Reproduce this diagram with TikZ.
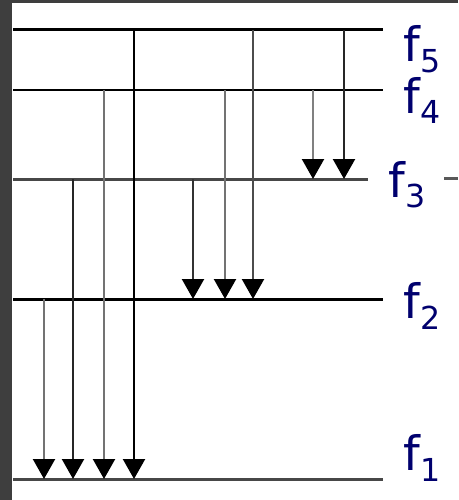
\documentclass[tikz,border=0pt]{standalone}
\usepackage{fontspec}
\setmainfont{DejaVu Sans}
\usetikzlibrary{arrows.meta}
\definecolor{levelnavy}{RGB}{0,0,110}
\definecolor{framegrey}{RGB}{62,62,62}
\newcommand{\levsub}[1]{\raisebox{-0.22cm}{\fontsize{18}{20}\selectfont #1}}

\begin{document}
\begin{tikzpicture}[x=0.02cm,y=-0.02cm]
		\tikzset{> = {Triangle[length=0.4cm,width=0.44cm,color=black]}}
		\tikzset{level/.style = {line width=0.06cm},
			trans/.style = {->,line width=0.045cm},
			lab/.style = {anchor=base west,inner sep=0pt,text=levelnavy,font=\fontsize{27}{30}\selectfont}}
		\useasboundingbox (0,0) rectangle (458,500);
		\fill[framegrey] (0,0) rectangle (458,500);
		\fill[white] (12,3) rectangle (458,500);
		% energy levels
		\coordinate (L5) at (13,30);  \coordinate (R5) at (383,30);
		\coordinate (L4) at (13,90);  \coordinate (R4) at (383,90);
		\coordinate (L3) at (13,179); \coordinate (R3) at (368,179);
		\coordinate (L2) at (13,299); \coordinate (R2) at (383,299);
		\coordinate (L1) at (13,479); \coordinate (R1) at (383,479);
		\draw[level] (L5) -- (R5);
		\draw[level] (L4) -- (R4);
		\draw[level,black!72] (L3) -- (R3);
		\draw[level] (L2) -- (R2);
		\draw[level,black!72] (L1) -- (R1);
		\node[lab] (F5) at (403,62) {f\levsub{5}};
		\node[lab] (F4) at (403,113) {f\levsub{4}};
		\node[lab] (F3) at (388,197) {f\levsub{3}};
		\node[lab] (F2) at (403,318) {f\levsub{2}};
		\node[lab] (F1) at (403,470) {f\levsub{1}};
		\coordinate (D) at (444,178);
		\draw[level,black!65] (D) -- (458,178);
		% transitions
		\foreach \x/\a/\b/\c in {44/2/1/black!55, 73/3/1/black!85, 104/4/1/black!55,
			134/5/1/black, 193/3/2/black!80, 225/4/2/black!55, 253/5/2/black!70,
			313/4/3/black!50, 344/5/3/black!85}
			\draw[trans,draw=\c] (\x,0 |- L\a) -- (\x,0 |- L\b);
	\end{tikzpicture}
\end{document}
